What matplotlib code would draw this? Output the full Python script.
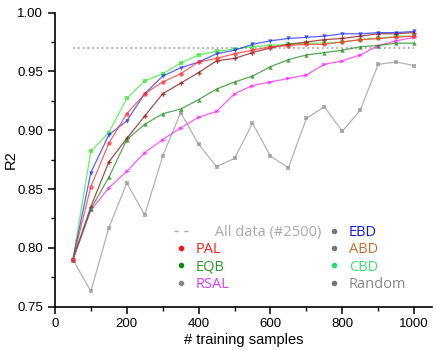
import numpy as np
import matplotlib
matplotlib.use('Agg')
import matplotlib.pyplot as plt
from matplotlib.lines import Line2D
from matplotlib.ticker import MultipleLocator

# training set sizes
n_samples = list(range(50, 1001, 50))

all_data_r2 = 0.970

pal = [0.790, 0.852, 0.889, 0.914, 0.931, 0.941, 0.948, 0.958, 0.961, 0.965,
       0.968, 0.971, 0.972, 0.973, 0.973, 0.975, 0.977, 0.978, 0.979, 0.980]
eqb = [0.790, 0.833, 0.860, 0.892, 0.905, 0.914, 0.918, 0.926, 0.935, 0.941,
       0.946, 0.954, 0.960, 0.964, 0.966, 0.968, 0.971, 0.972, 0.974, 0.974]
rsal = [0.790, 0.832, 0.851, 0.865, 0.881, 0.892, 0.902, 0.911, 0.916, 0.931,
        0.938, 0.941, 0.944, 0.947, 0.956, 0.959, 0.964, 0.972, 0.976, 0.979]
ebd = [0.790, 0.864, 0.896, 0.908, 0.931, 0.946, 0.953, 0.958, 0.965, 0.968,
       0.973, 0.976, 0.978, 0.979, 0.980, 0.982, 0.982, 0.983, 0.983, 0.984]
abd = [0.790, 0.835, 0.873, 0.893, 0.912, 0.931, 0.940, 0.949, 0.959, 0.961,
       0.966, 0.970, 0.973, 0.975, 0.977, 0.978, 0.980, 0.982, 0.982, 0.983]
cbd = [0.790, 0.882, 0.898, 0.927, 0.942, 0.948, 0.957, 0.964, 0.967, 0.969,
       0.971, 0.972, 0.973, 0.974, 0.974, 0.975, 0.977, 0.978, 0.980, 0.980]
rand = [0.790, 0.763, 0.817, 0.855, 0.828, 0.878, 0.915, 0.888, 0.869, 0.876,
        0.906, 0.878, 0.868, 0.910, 0.920, 0.899, 0.917, 0.956, 0.958, 0.955]

# (values, line colour, marker, label, label colour, legend dot colour)
series = [
    (pal,  '#ff3030', 'o', 'PAL',    '#ff2020', '#ff1010'),
    (eqb,  '#1e8a1e', '^', 'EQB',    '#2a9a2a', '#118811'),
    (rsal, '#ff22ff', '>', 'RSAL',   '#d040ff', '#888888'),
    (ebd,  '#2030ff', 'v', 'EBD',    '#1515ee', '#777777'),
    (abd,  '#8b1010', 'P', 'ABD',    '#d06a30', '#777777'),
    (cbd,  '#33ee33', 's', 'CBD',    '#44dd77', '#22dd66'),
    (rand, '#999999', 's', 'Random', '#888888', '#777777'),
]

fig = plt.figure(figsize=(4.36, 3.5), dpi=100)
ax = fig.add_axes([0.126, 0.124, 0.865, 0.840])

ax.plot([n_samples[0], n_samples[-1]], [all_data_r2, all_data_r2], ':',
        color='#aaaaaa', linewidth=1.3)

# draw order: random at the back
for vals, col, mk, lab, tcol, dcol in series[::-1]:
    ax.plot(n_samples, vals, color=col, marker=mk, markersize=3.2,
            linewidth=0.9, alpha=0.75, markeredgewidth=0)

ax.set_xlim(0, 1050)
ax.set_ylim(0.75, 1.00)
ax.xaxis.set_major_locator(MultipleLocator(200))
ax.xaxis.set_minor_locator(MultipleLocator(100))
ax.yaxis.set_major_locator(MultipleLocator(0.05))
ax.yaxis.set_minor_locator(MultipleLocator(0.025))
ax.yaxis.set_major_formatter(matplotlib.ticker.FormatStrFormatter('%.2f'))
for s in ['top', 'right']:
    ax.spines[s].set_visible(False)
for s in ['left', 'bottom']:
    ax.spines[s].set_linewidth(1.2)
ax.tick_params(which='major', direction='out', length=5, width=1.1,
               labelsize=9.5)
ax.tick_params(which='minor', direction='out', length=3, width=1.0)
for t in ax.get_xticklabels() + ax.get_yticklabels():
    t.set_fontfamily('Liberation Sans')

ax.set_xlabel('# training samples', fontsize=10.5, family='Liberation Sans',
              labelpad=2)
ax.set_ylabel('R2', fontsize=10.5, family='Liberation Sans')
ax.yaxis.set_label_coords(-0.098, 0.5)

# legend: first column All data, PAL, EQB, RSAL; second EBD, ABD, CBD, Random
handles = [Line2D([], [], linestyle=(0, (3, 4)), color='#aaaaaa', linewidth=1)]
labels = ['     All data (#2500)']
colors = ['#aaaaaa']
for vals, col, mk, lab, tcol, dcol in series:
    handles.append(Line2D([], [], linestyle='none', marker='o', markersize=3,
                          color=dcol))
    labels.append(lab)
    colors.append(tcol)

ax.legend(handles, labels, ncol=2, loc='lower left',
          bbox_to_anchor=(0.315, 0.05), frameon=False, labelcolor=colors,
          prop={'family': 'Open Sans', 'size': 10.5}, handlelength=1.0,
          handletextpad=0.5, columnspacing=0.4, labelspacing=0.16,
          borderpad=0, borderaxespad=0, markerfirst=True)

fig.savefig('out.png', dpi=100)
